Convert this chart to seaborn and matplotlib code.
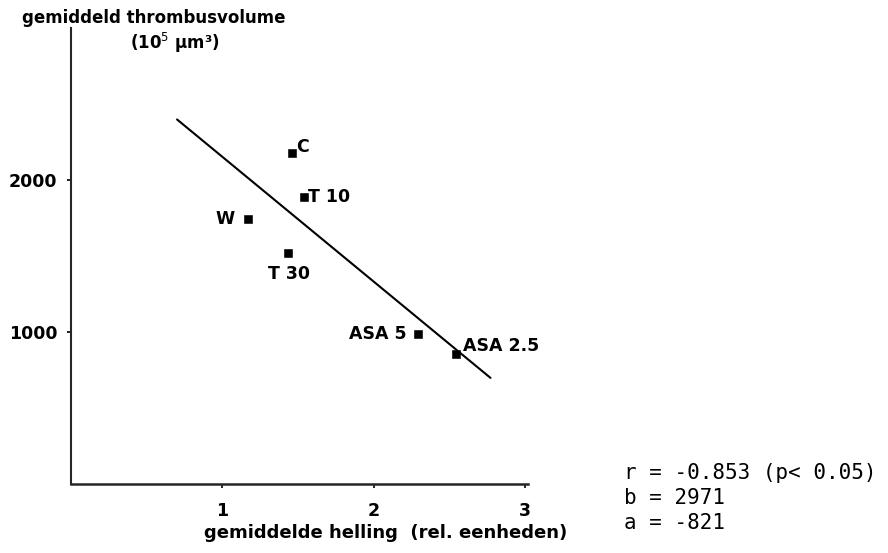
import numpy as np
import pandas as pd
import matplotlib
matplotlib.use("Agg")
import matplotlib.pyplot as plt
import seaborn as sns

# gemeten punten
groepen = ["C", "T 10", "W", "T 30", "ASA 5", "ASA 2.5"]
helling = [1.46, 1.54, 1.17, 1.43, 2.29, 2.54]
volume = [2178, 1888, 1743, 1520, 987, 855]

# regressielijn y = b + a*x
b_coef = 2971
a_coef = -821
lijn_x = [0.70, 2.77]

stats_regels = ["r = -0.853 (p< 0.05)", "b = 2971", "a = -821"]


def main():
    sns.set_style("ticks")
    plt.rcParams['font.family'] = ['DejaVu Sans']
    plt.rcParams['text.color'] = 'black'
    plt.rcParams['xtick.color'] = 'black'
    plt.rcParams['ytick.color'] = 'black'
    plt.rcParams['axes.labelcolor'] = 'black'

    df = pd.DataFrame({"groep": groepen, "x": helling, "y": volume})
    fit = pd.DataFrame({"x": lijn_x,
                        "y": [b_coef + a_coef * v for v in lijn_x]})

    fig = plt.figure(figsize=(8.88, 5.53), dpi=100)
    ax = fig.add_axes([0.080, 0.125, 0.515, 0.825])

    sns.lineplot(data=fit, x="x", y="y", color="black", linewidth=1.5, ax=ax)
    sns.scatterplot(data=df, x="x", y="y", marker="s", color="black",
                    s=28, edgecolor="black", zorder=3, ax=ax)

    # labels naast de punten
    offsets = {
        "C": (3, 4, "left", "center"),
        "T 10": (3, 0, "left", "center"),
        "W": (-10, 0, "right", "center"),
        "T 30": (-14, -15, "left", "center"),
        "ASA 5": (-8, 0, "right", "center"),
        "ASA 2.5": (5, 6, "left", "center"),
    }
    for g, x, y in zip(groepen, helling, volume):
        dx, dy, ha, va = offsets[g]
        ax.annotate(g, (x, y), xytext=(dx, dy), textcoords="offset points",
                    ha=ha, va=va, fontsize=12.5, fontweight="bold")

    ax.set_xlim(0, 3.02)
    ax.set_ylim(0, 3000)
    ax.set_xticks([1, 2, 3])
    ax.set_yticks([1000, 2000])
    ax.tick_params(axis="both", labelsize=12.5, width=1.2, length=3)
    for lbl in ax.get_xticklabels() + ax.get_yticklabels():
        lbl.set_fontweight("bold")
    ax.tick_params(axis="x", pad=10)
    ax.tick_params(axis="y", pad=7)

    sns.despine(ax=ax)
    ax.spines["left"].set_linewidth(1.5)
    ax.spines["bottom"].set_linewidth(1.8)

    ax.set_xlabel("gemiddelde helling  (rel. eenheden)", fontsize=13,
                  fontweight="bold")
    ax.xaxis.set_label_coords(0.687, -0.088)
    ax.set_ylabel("")

    fig.text(0.173, 0.968, "gemiddeld thrombusvolume", ha="center",
             va="center", fontsize=12, fontweight="bold")
    fig.text(0.197, 0.922, "(10$^5$ µm³)", ha="center",
             va="center", fontsize=12, fontweight="bold")

    for i, regel in enumerate(stats_regels):
        fig.text(0.703, 0.145 - i * 0.045, regel, ha="left", va="center",
                 fontsize=15, family=['DejaVu Sans Mono'])

    fig.savefig("out.png", dpi=100)


if __name__ == "__main__":
    main()
